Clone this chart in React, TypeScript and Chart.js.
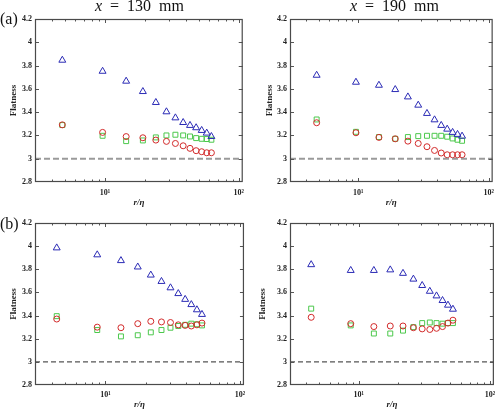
import React, { useEffect, useRef } from "react";
import { Chart, registerables } from "chart.js";
Chart.register(...registerables);

// r/eta positions
const rEtaA = [4.8, 9.6, 14.4, 19.2, 24, 28.8, 33.6, 38.4, 43.2, 48, 52.8, 57.6, 62.4];
const rEtaB = [4.35, 8.7, 13.05, 17.4, 21.75, 26.1, 30.45, 34.8, 39.15, 43.5, 47.85, 52.2];

// (a) x = 130 mm
const triA130 = [3.846, 3.751, 3.666, 3.577, 3.483, 3.403, 3.351, 3.311, 3.286, 3.266, 3.243, 3.22, 3.191];
const circA130 = [3.291, 3.226, 3.19, 3.18, 3.16, 3.149, 3.131, 3.111, 3.089, 3.069, 3.06, 3.051, 3.051];
const sqA130 = [3.289, 3.197, 3.151, 3.157, 3.183, 3.2, 3.206, 3.2, 3.191, 3.177, 3.171, 3.169, 3.163];

// (a) x = 190 mm
const triA190 = [3.717, 3.657, 3.631, 3.594, 3.531, 3.46, 3.389, 3.334, 3.286, 3.254, 3.226, 3.209, 3.194];
const circA190 = [3.309, 3.223, 3.183, 3.171, 3.151, 3.131, 3.103, 3.071, 3.049, 3.034, 3.034, 3.034, 3.034];
const sqA190 = [3.337, 3.231, 3.186, 3.171, 3.186, 3.194, 3.197, 3.197, 3.197, 3.189, 3.174, 3.163, 3.154];

// (b) x = 130 mm
const triB130 = [3.985, 3.925, 3.875, 3.82, 3.75, 3.695, 3.64, 3.59, 3.54, 3.495, 3.45, 3.41];
const circB130 = [3.37, 3.3, 3.295, 3.33, 3.35, 3.345, 3.34, 3.32, 3.315, 3.31, 3.32, 3.335];
const sqB130 = [3.395, 3.275, 3.22, 3.23, 3.255, 3.275, 3.295, 3.31, 3.32, 3.33, 3.325, 3.315];

// (b) x = 190 mm
const triB190 = [3.84, 3.79, 3.79, 3.795, 3.765, 3.715, 3.66, 3.61, 3.57, 3.53, 3.49, 3.455];
const circB190 = [3.385, 3.33, 3.305, 3.31, 3.31, 3.295, 3.285, 3.28, 3.29, 3.305, 3.335, 3.36];
const sqB190 = [3.46, 3.315, 3.245, 3.245, 3.27, 3.3, 3.335, 3.34, 3.335, 3.33, 3.335, 3.335];

const refLevel = 3;
const xMin = 3;
const xMax = 107;
const yMin = 2.8;
const yMax = 4.2;
const yStep = 0.2;
const xMajorTicks = [10, 100];
const xTickLabels = ["10\u00B9", "10\u00B2"];
const xMinorTicks = [3, 4, 5, 6, 7, 8, 9, 20, 30, 40, 50, 60, 70, 80, 90];

const SERIF = "'Liberation Serif', 'Times New Roman', serif";

const boxTicksPlugin = {
  id: "boxTicks",
  afterDraw(chart: any) {
    const { ctx, chartArea: ca, scales } = chart;
    const xs = scales.x;
    const ys = scales.y;
    ctx.save();
    ctx.strokeStyle = "#555";
    ctx.lineWidth = 1;
    ctx.beginPath();
    const majL = 4;
    const minL = 2.5;
    xMajorTicks.forEach((v) => {
      if (v <= xs.min || v >= xs.max) return;
      const px = Math.round(xs.getPixelForValue(v)) + 0.5;
      ctx.moveTo(px, ca.bottom);
      ctx.lineTo(px, ca.bottom - majL);
      ctx.moveTo(px, ca.top);
      ctx.lineTo(px, ca.top + majL);
    });
    xMinorTicks.forEach((v) => {
      if (v <= xs.min || v >= xs.max) return;
      const px = Math.round(xs.getPixelForValue(v)) + 0.5;
      ctx.moveTo(px, ca.bottom);
      ctx.lineTo(px, ca.bottom - minL);
      ctx.moveTo(px, ca.top);
      ctx.lineTo(px, ca.top + minL);
    });
    ys.ticks.forEach((t: any) => {
      if (t.value <= ys.min + 1e-9 || t.value >= ys.max - 1e-9) return;
      const py = Math.round(ys.getPixelForValue(t.value)) + 0.5;
      ctx.moveTo(ca.left, py);
      ctx.lineTo(ca.left + majL, py);
      ctx.moveTo(ca.right, py);
      ctx.lineTo(ca.right - majL, py);
    });
    ctx.stroke();
    ctx.lineWidth = 1.2;
    ctx.strokeStyle = "#4a4a4a";
    ctx.strokeRect(ca.left + 0.5, ca.top + 0.5, ca.right - ca.left - 1, ca.bottom - ca.top - 1);
    ctx.restore();
  },
};

type PanelProps = {
  left: number;
  top: number;
  width: number;
  height: number;
  xs: number[];
  tri: number[];
  circ: number[];
  sq: number[];
  yAxisWidth: number;
  xAxisHeight: number;
  padTop: number;
  padRight: number;
  yTitlePad: number;
  xTitlePad: number;
  xTickPad: number;
  dashColor: string;
  dashWidth: number;
  dash: number[];
};

function Panel(p: PanelProps) {
  const ref = useRef<HTMLCanvasElement>(null);
  useEffect(() => {
    if (!ref.current) return;
    const pts = (ys: number[]) => ys.map((y, i) => ({ x: p.xs[i], y }));
    const chart = new Chart(ref.current, {
      type: "scatter",
      data: {
        datasets: [
          {
            type: "line",
            data: [
              { x: xMin, y: refLevel },
              { x: xMax, y: refLevel },
            ],
            borderColor: p.dashColor,
            borderWidth: p.dashWidth,
            borderDash: p.dash,
            pointRadius: 0,
            fill: false,
          } as any,
          {
            data: pts(p.tri),
            pointStyle: "triangle",
            pointRadius: 4,
            borderColor: "#2b2bb5",
            backgroundColor: "rgba(0,0,0,0)",
            borderWidth: 1,
          },
          {
            data: pts(p.circ),
            pointStyle: "circle",
            pointRadius: 3,
            borderColor: "#d22a2a",
            backgroundColor: "rgba(0,0,0,0)",
            borderWidth: 1,
          },
          {
            data: pts(p.sq),
            pointStyle: "rect",
            pointRadius: 3.5,
            borderColor: "#4cc84c",
            backgroundColor: "rgba(0,0,0,0)",
            borderWidth: 1,
          },
        ],
      },
      options: {
        animation: false,
        responsive: false,
        maintainAspectRatio: false,
        events: [],
        layout: { padding: { top: p.padTop, right: p.padRight, left: 0, bottom: 0 } },
        plugins: { legend: { display: false }, tooltip: { enabled: false }, title: { display: false } },
        scales: {
          x: {
            type: "logarithmic",
            min: xMin,
            max: xMax,
            grid: { display: false, drawTicks: false },
            border: { display: false },
            afterBuildTicks: (scale: any) => {
              scale.ticks = xMajorTicks.map((v) => ({ value: v }));
            },
            afterFit: (scale: any) => {
              scale.height = p.xAxisHeight;
            },
            ticks: {
              autoSkip: false,
              maxRotation: 0,
              padding: p.xTickPad,
              color: "#222",
              font: { family: SERIF, size: 8, weight: "bold" },
              callback: (v: any) => {
                const i = xMajorTicks.indexOf(Number(v));
                return i >= 0 ? xTickLabels[i] : "";
              },
            },
            title: {
              display: true,
              text: "r/\u03B7",
              color: "#222",
              font: { family: SERIF, size: 9, weight: "bold", style: "italic" },
              padding: { top: 0, bottom: p.xTitlePad },
            },
          },
          y: {
            type: "linear",
            min: yMin,
            max: yMax,
            grid: { display: false, drawTicks: false },
            border: { display: false },
            afterFit: (scale: any) => {
              scale.width = p.yAxisWidth;
            },
            ticks: {
              stepSize: yStep,
              padding: 3,
              color: "#222",
              font: { family: SERIF, size: 8, weight: "bold" },
              callback: (v: any) => String(Number(Number(v).toFixed(1))),
            },
            title: {
              display: true,
              text: "Flatness",
              color: "#222",
              font: { family: SERIF, size: 9, weight: "bold" },
              padding: { top: p.yTitlePad, bottom: 0 },
            },
          },
        },
      },
      plugins: [boxTicksPlugin],
    });
    return () => chart.destroy();
  }, []);
  return (
    <canvas
      ref={ref}
      width={p.width}
      height={p.height}
      style={{ position: "absolute", left: p.left, top: p.top, width: p.width, height: p.height }}
    />
  );
}

const textStyle: React.CSSProperties = {
  position: "absolute",
  fontFamily: SERIF,
  fontSize: 16,
  lineHeight: "16px",
  color: "#111",
  whiteSpace: "nowrap",
};

export default function App() {
  return (
    <div style={{ position: "absolute", left: 0, top: 0, width: 500, height: 411, background: "#fff", overflow: "hidden" }}>
      <Panel left={0} top={0} width={250} height={211} xs={rEtaA} tri={triA130} circ={circA130} sq={sqA130}
        yAxisWidth={35} xAxisHeight={29} padTop={19} padRight={6} yTitlePad={8.6} xTitlePad={2.6} xTickPad={5.9}
        dashColor="#9a9a9a" dashWidth={2} dash={[6, 3]} />
      <Panel left={250} top={0} width={250} height={211} xs={rEtaA} tri={triA190} circ={circA190} sq={sqA190}
        yAxisWidth={40} xAxisHeight={29} padTop={19} padRight={1} yTitlePad={14.6} xTitlePad={2.6} xTickPad={5.9}
        dashColor="#9a9a9a" dashWidth={2} dash={[6, 3]} />
      <Panel left={0} top={211} width={250} height={200} xs={rEtaB} tri={triB130} circ={circB130} sq={sqB130}
        yAxisWidth={35} xAxisHeight={26} padTop={12} padRight={6} yTitlePad={8.6} xTitlePad={0.6} xTickPad={4.7}
        dashColor="#555" dashWidth={1.2} dash={[5, 3]} />
      <Panel left={250} top={211} width={250} height={200} xs={rEtaB} tri={triB190} circ={circB190} sq={sqB190}
        yAxisWidth={40} xAxisHeight={26} padTop={12} padRight={1} yTitlePad={7.6} xTitlePad={0.6} xTickPad={4.7}
        dashColor="#555" dashWidth={1.2} dash={[5, 3]} />
      <div style={{ ...textStyle, left: 79.5, width: 120, top: -2, textAlign: "center", wordSpacing: 4 }}>
        <i>x</i> = 130 mm
      </div>
      <div style={{ ...textStyle, left: 334.5, width: 120, top: -2, textAlign: "center", wordSpacing: 4 }}>
        <i>x</i> = 190 mm
      </div>
      <div style={{ ...textStyle, left: 0, top: 11 }}>(a)</div>
      <div style={{ ...textStyle, left: 0, top: 216 }}>(b)</div>
    </div>
  );
}
